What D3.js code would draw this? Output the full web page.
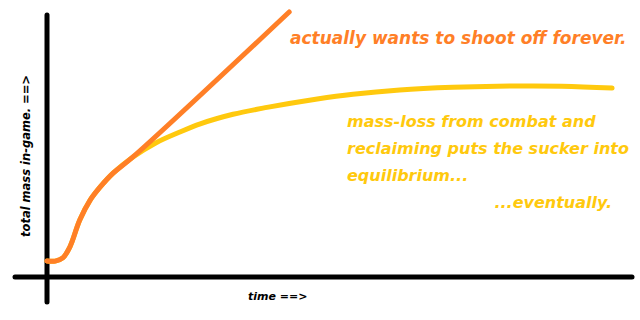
<!DOCTYPE html>
<html>
<head>
<meta charset="utf-8">
<script src="https://d3js.org/d3.v7.min.js"></script>
<style>
  body { margin: 0; background: #ffffff; }
  .note { font-family: "Comic Sans MS", "DejaVu Sans", sans-serif; font-style: italic; font-weight: bold; }
</style>
</head>
<body>
<div id="vis"></div>
<script>
// mass vs time sketch

const FRAME_WIDTH = 640;
const FRAME_HEIGHT = 320;

const ORANGE = "#ff7f27";
const GOLD = "#ffc90e";

// time (0-100) and mass (0-100)
const GROWTH_TIME = [0, 1.4, 2.7, 3.9, 5.6, 7.4, 9.1, 11.3, 14.7, 41.4];
const GROWTH_MASS = [6.0, 6.0, 7.2, 11.3, 21.5, 29.1, 34.0, 39.2, 45.3, 100];

const EQUIL_TIME = [0, 1.4, 2.7, 3.9, 5.6, 7.4, 9.1, 11.3, 14.7, 18.5, 22.5, 26.2, 31.8, 37.6, 46.2, 52.3, 60.3, 69.4, 77.0, 88.0, 96.6];
const EQUIL_MASS = [6.0, 6.0, 7.2, 11.3, 21.5, 29.1, 34.0, 39.2, 45.3, 50.5, 54.5, 57.8, 61.4, 64.0, 67.2, 69.0, 70.6, 71.6, 72.0, 72.0, 71.3];

const GROWTH_NOTE = "actually wants to shoot off forever.";
const EQUIL_NOTE = ["mass-loss from combat and", "reclaiming puts the sucker into", "equilibrium..."];
const EQUIL_TAIL = "...eventually.";
const X_LABEL = "time ==>";
const Y_LABEL = "total mass in-game. ==>";

const X_SCALE = d3.scaleLinear()
                    .domain([0, 100])
                    .range([47, 632]);
const Y_SCALE = d3.scaleLinear()
                    .domain([0, 100])
                    .range([277, 12]);

const FRAME = d3.select("#vis")
                .append("svg")
                    .attr("width", FRAME_WIDTH)
                    .attr("height", FRAME_HEIGHT);

// axes, drawn as thick paint strokes
FRAME.append("line")
        .attr("x1", X_SCALE(0)).attr("x2", X_SCALE(0))
        .attr("y1", 15).attr("y2", 302)
        .attr("stroke", "#000").attr("stroke-width", 5).attr("stroke-linecap", "round");
FRAME.append("line")
        .attr("x1", 15).attr("x2", X_SCALE(100))
        .attr("y1", Y_SCALE(0)).attr("y2", Y_SCALE(0))
        .attr("stroke", "#000").attr("stroke-width", 5).attr("stroke-linecap", "round");

const LINE = d3.line()
                .x((d) => { return X_SCALE(d[0]); })
                .y((d) => { return Y_SCALE(d[1]); })
                .curve(d3.curveCatmullRom.alpha(0.5));

FRAME.append("path")
        .attr("d", LINE(d3.zip(EQUIL_TIME, EQUIL_MASS)))
        .attr("fill", "none")
        .attr("stroke", GOLD)
        .attr("stroke-width", 5)
        .attr("stroke-linecap", "round");

FRAME.append("path")
        .attr("d", LINE(d3.zip(GROWTH_TIME, GROWTH_MASS)))
        .attr("fill", "none")
        .attr("stroke", ORANGE)
        .attr("stroke-width", 5)
        .attr("stroke-linecap", "round");

// notes
FRAME.append("text")
        .attr("class", "note")
        .attr("x", 290).attr("y", 44)
        .attr("font-size", 17)
        .attr("fill", ORANGE)
        .text(GROWTH_NOTE);

FRAME.selectAll(".eq")
        .data(EQUIL_NOTE)
        .enter()
        .append("text")
            .attr("class", "note eq")
            .attr("x", 347)
            .attr("y", (d, i) => { return 127 + i * 27; })
            .attr("font-size", 16)
            .attr("fill", GOLD)
            .text((d) => { return d; });

FRAME.append("text")
        .attr("class", "note")
        .attr("x", 612).attr("y", 208)
        .attr("text-anchor", "end")
        .attr("font-size", 16)
        .attr("fill", GOLD)
        .text(EQUIL_TAIL);

// axis labels
FRAME.append("text")
        .attr("class", "note")
        .attr("x", 248).attr("y", 300)
        .attr("font-size", 11)
        .attr("fill", "#000")
        .text(X_LABEL);

FRAME.append("text")
        .attr("class", "note")
        .attr("transform", "translate(30,237) rotate(-90)")
        .attr("font-size", 11.5)
        .attr("fill", "#000")
        .text(Y_LABEL);
</script>
</body>
</html>
